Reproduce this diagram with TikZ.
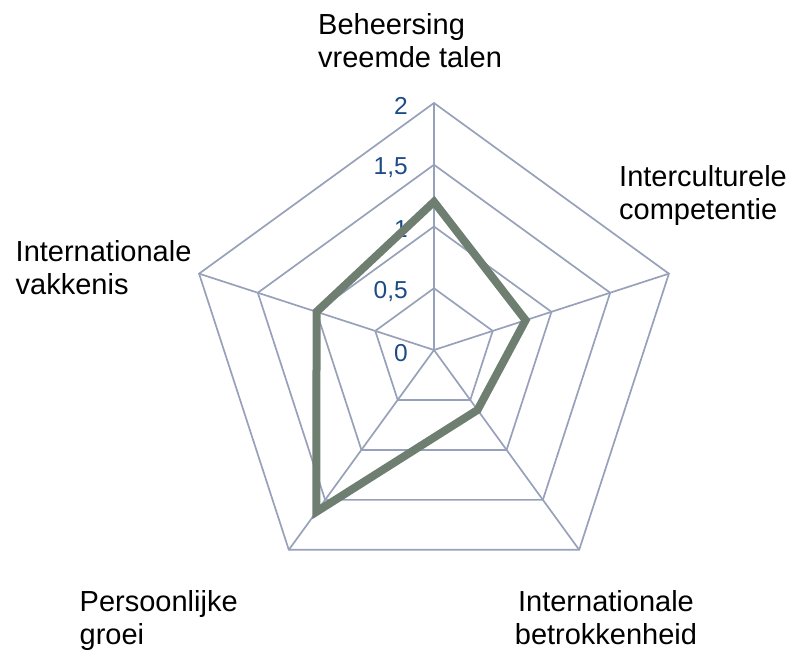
\documentclass[tikz,border=0pt]{standalone}
\usepackage{fontspec}
\setmainfont{Liberation Sans}
\definecolor{gridgray}{HTML}{98A1BA}
\definecolor{tickblue}{HTML}{1C4B86}
\definecolor{seriesgreen}{HTML}{6E7F71}
\begin{document}
\begin{tikzpicture}[x=123.5pt,y=123.5pt]
    \tikzstyle{web}=[draw=gridgray,line width=1.7pt]
    \tikzstyle{series}=[draw=seriesgreen,line width=8pt,line join=miter]
    \tikzstyle{tick}=[text=tickblue,inner sep=0pt,anchor=east,font=\fontsize{24.5}{28}\selectfont]
    \tikzstyle{axislabel}=[inner sep=0pt,font=\fontsize{29}{33}\selectfont]
    \useasboundingbox (-434pt,-300pt) rectangle (362pt,350pt);
    \coordinate (o) at (0,0);
    % rings and spokes
    \foreach \r in {0.5,1,1.5,2}
        \draw[web] (90:\r) -- (18:\r) -- (-54:\r) -- (-126:\r) -- (162:\r) -- cycle;
    \foreach \a in {90,18,-54,-126,162}
        \draw[web] (o) -- (\a:2);
    % scale
    \foreach \v/\t in {0/0,0.5/{0,5},1/1,1.5/{1,5},2/2}
        \node[tick,xshift=-26pt,yshift=-3pt] (t\v) at (0,\v) {\t};
    % values
    \coordinate (taal) at (90:1.2);
    \coordinate (icc) at (18:0.78);
    \coordinate (betr) at (-54:0.6);
    \coordinate (groei) at (-126:1.62);
    \coordinate (vak) at (162:1.0);
    \draw[series] (taal) -- (icc) -- (betr) -- (groei) -- (vak) -- cycle;
    % axis names (base = last line)
    \node (ltaal)[axislabel,anchor=base west,align=left] at (-116pt,282pt) {Beheersing\\vreemde talen};
    \node (licc)[axislabel,anchor=base west,align=left] at (185pt,130pt) {Interculturele\\competentie};
    \node (lvak)[axislabel,anchor=base west,align=left] at (-418.5pt,55pt) {Internationale\\vakkenis};
    \node (lgroei)[axislabel,anchor=base west,align=left] at (-354.5pt,-295pt) {Persoonlijke\\groei};
    \node (lbetr)[axislabel,anchor=base,align=center] at (172pt,-295pt) {Internationale\\betrokkenheid};
\end{tikzpicture}
\end{document}
